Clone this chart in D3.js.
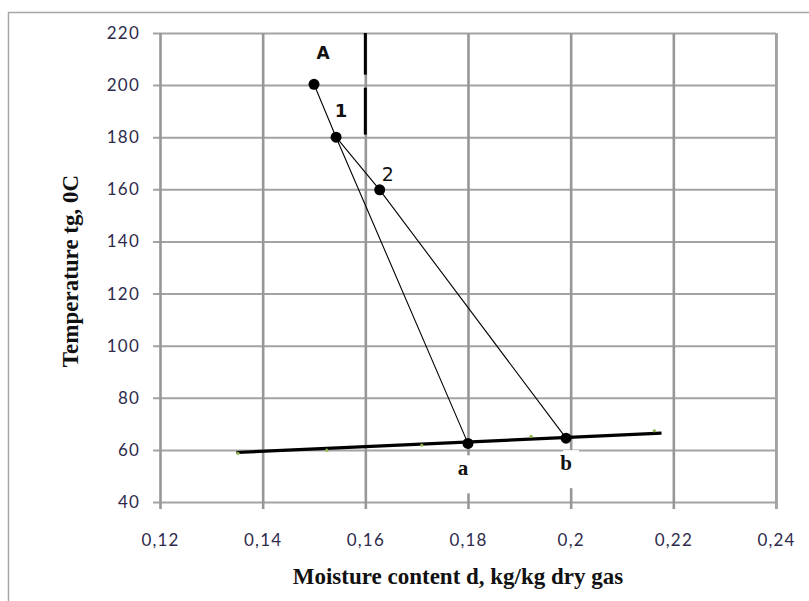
<!DOCTYPE html>
<html>
<head>
<meta charset="utf-8">
<script src="https://cdn.jsdelivr.net/npm/d3@7"></script>
<style>
  body { margin: 0; background: #fff; }
  svg { display: block; }
</style>
</head>
<body>
<div id="chart"></div>
<script>
// ticks
const xTicks = [0.12, 0.14, 0.16, 0.18, 0.2, 0.22, 0.24];
const yTicks = [40, 60, 80, 100, 120, 140, 160, 180, 200, 220];

// process points (d, t)
const pointNames = ["A", "1", "2", "a", "b"];
const pointD = [0.15, 0.1543, 0.1628, 0.18, 0.1991];
const pointT = [200.3, 180, 159.8, 62.5, 64.5];

// drying paths through the named points
const pathOne = ["A", "1", "a"];
const pathTwo = ["1", "2", "b"];

// saturation line
const satD = [0.1349, 0.2177];
const satT = [59.0, 66.4];

// faint series markers along the saturation line
const dotD = [0.1352, 0.1525, 0.171, 0.1923, 0.2163];
const dotT = [58.7, 59.9, 61.8, 65.2, 67.3];

// vertical guide at d = 0.16 (two pieces)
const guideD = 0.16;
const guideT = [[220, 204], [199, 181]];

const W = 809, H = 601;
const margin = { top: 33, right: 33, bottom: 99, left: 160 };
const width = W - margin.left - margin.right;
const height = H - margin.top - margin.bottom;

const svg = d3.select("#chart").append("svg")
  .attr("width", W)
  .attr("height", H);

// outer frame
svg.append("rect")
  .attr("x", 8.5).attr("y", 12.5)
  .attr("width", W + 10).attr("height", H + 10)
  .attr("fill", "none")
  .attr("stroke", "#a6a6a6")
  .attr("stroke-width", 1.5);

const g = svg.append("g").attr("transform", `translate(${margin.left},${margin.top})`);

const x = d3.scaleLinear().domain([0.12, 0.24]).range([0, width]);
const y = d3.scaleLinear().domain([40, 220]).range([height, 0]);

const fmt = (v) => String(v).replace(".", ",");
const tickFont = (sel) => sel
  .attr("fill", "#2e2b4c")
  .style("font-family", "Lato, 'Open Sans', sans-serif")
  .style("font-size", "17px")
  .style("letter-spacing", "1.2px");

// horizontal gridlines + y ticks
g.append("g")
  .attr("transform", "translate(-7,0)")
  .call(d3.axisLeft(y).tickValues(yTicks).tickSize(-width - 7).tickFormat(fmt))
  .call((a) => a.select(".domain").remove())
  .call((a) => a.selectAll("line").attr("stroke", "#a3a3a3").attr("stroke-width", 2))
  .call((a) => a.selectAll("text").attr("x", -13).call(tickFont));

// vertical gridlines + x ticks
g.append("g")
  .attr("transform", `translate(0,${height + 7})`)
  .call(d3.axisBottom(x).tickValues(xTicks).tickSize(-height - 7).tickFormat(fmt).tickPadding(25))
  .call((a) => a.select(".domain").remove())
  .call((a) => a.selectAll("line").attr("stroke", "#979797").attr("stroke-width", 2.6))
  .call((a) => a.selectAll("text").call(tickFont));

// right edge line thinner
g.append("line")
  .attr("x1", width).attr("x2", width)
  .attr("y1", 0).attr("y2", height + 7)
  .attr("stroke", "#a3a3a3").attr("stroke-width", 2);

// vertical guide
g.selectAll(".guide")
  .data(guideT)
  .join("line")
  .attr("class", "guide")
  .attr("x1", x(guideD)).attr("x2", x(guideD))
  .attr("y1", (d) => y(d[0])).attr("y2", (d) => y(d[1]))
  .attr("stroke", "#000").attr("stroke-width", 3);

const pts = new Map(pointNames.map((n, i) => [n, [pointD[i], pointT[i]]]));
const line = d3.line().x((d) => x(d[0])).y((d) => y(d[1]));

// saturation line
g.append("path")
  .datum(satD.map((d, i) => [d, satT[i]]))
  .attr("d", line)
  .attr("fill", "none")
  .attr("stroke", "#000")
  .attr("stroke-width", 3.2);

g.selectAll(".dot")
  .data(dotD.map((d, i) => [d, dotT[i]]))
  .join("circle")
  .attr("class", "dot")
  .attr("cx", (d) => x(d[0])).attr("cy", (d) => y(d[1]))
  .attr("r", 1.6)
  .attr("fill", "#8fb34a");

// drying paths
[pathOne, pathTwo].forEach((p) => {
  g.append("path")
    .datum(p.map((n) => pts.get(n)))
    .attr("d", line)
    .attr("fill", "none")
    .attr("stroke", "#000")
    .attr("stroke-width", 1.1);
});

// point markers
g.selectAll(".pt")
  .data(pointNames)
  .join("circle")
  .attr("class", "pt")
  .attr("cx", (n) => x(pts.get(n)[0]))
  .attr("cy", (n) => y(pts.get(n)[1]))
  .attr("r", 5.5)
  .attr("fill", "#000");

// point labels
const labels = [
  { n: "A", dx: 9, dy: -25, font: "'DejaVu Sans', sans-serif", weight: "bold", size: 17 },
  { n: "1", dx: 5, dy: -20, font: "'DejaVu Sans', sans-serif", weight: "bold", size: 18 },
  { n: "2", dx: 8, dy: -9, font: "'DejaVu Sans', sans-serif", weight: "normal", size: 19 },
  { n: "a", dx: -5, dy: 32, font: "'Liberation Serif', serif", weight: "bold", size: 21, box: true },
  { n: "b", dx: 0, dy: 32, font: "'Liberation Serif', serif", weight: "bold", size: 21, box: true }
];

labels.forEach((l) => {
  const px = x(pts.get(l.n)[0]) + l.dx;
  const py = y(pts.get(l.n)[1]) + l.dy;
  if (l.box) {
    g.append("rect")
      .attr("x", px - 3).attr("y", py - 20)
      .attr("width", 16).attr("height", 38)
      .attr("fill", "#fff");
  }
  g.append("text")
    .attr("x", px).attr("y", py)
    .attr("text-anchor", "middle")
    .style("font-family", l.font)
    .style("font-weight", l.weight)
    .style("font-size", l.size + "px")
    .attr("fill", "#111")
    .text(l.n);
});

// axis titles
svg.append("text")
  .attr("x", 458)
  .attr("y", 584)
  .attr("text-anchor", "middle")
  .style("font-family", "'Liberation Serif', serif")
  .style("font-weight", "bold")
  .style("font-size", "23px")
  .attr("fill", "#111")
  .text("Moisture content d, kg/kg dry gas");

svg.append("text")
  .attr("transform", "translate(78,271) rotate(-90)")
  .attr("text-anchor", "middle")
  .style("font-family", "'Liberation Serif', serif")
  .style("font-weight", "bold")
  .style("font-size", "23px")
  .attr("fill", "#111")
  .text("Temperature tg, 0C");
</script>
</body>
</html>
